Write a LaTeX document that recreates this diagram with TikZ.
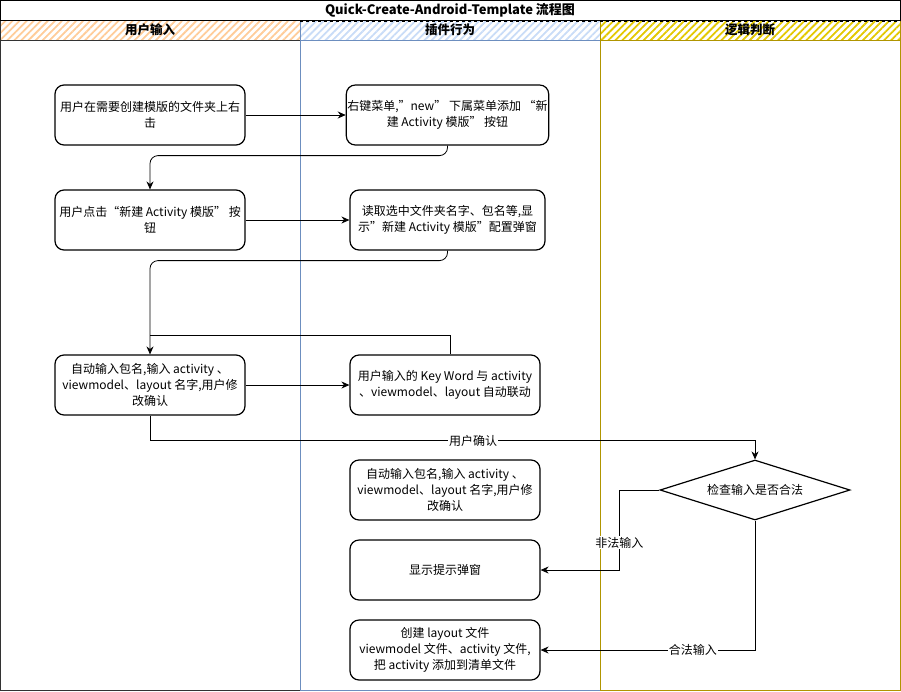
\documentclass[tikz,border=0pt]{standalone}
\usepackage{fontspec}
\setmainfont{Noto Sans CJK SC}
\usetikzlibrary{arrows.meta,shapes.geometric,patterns.meta}
\definecolor{hatchA}{HTML}{FFCC99}
\definecolor{hatchB}{HTML}{C9DCF7}
\definecolor{hatchC}{HTML}{E3C800}
\definecolor{laneA}{HTML}{333333}
\definecolor{laneB}{HTML}{6C8EBF}
\definecolor{laneC}{HTML}{B09500}
\begin{document}
\begin{tikzpicture}[x=1pt,y=-1pt,
  font=\fontsize{12}{16}\selectfont,
  box/.style={draw, line width=1.2pt, rounded corners=9pt, minimum width=190pt, minimum height=60pt, align=center, inner sep=1pt},
  flow/.style={draw, line width=0.8pt, -{Stealth[length=8pt,width=7pt]}},
  plain/.style={draw, line width=0.8pt},
  lbl/.style={fill=white, inner sep=1pt, font=\fontsize{12}{14}\selectfont},
  hdr/.style={font=\fontsize{12.5}{14}\selectfont\bfseries}]
\useasboundingbox (0,0) rectangle (901,691);
% header hatching
\path[pattern={Lines[angle=45,distance=5pt,line width=1.8pt]}, pattern color=hatchA] (0,21) rectangle (300,40);
\path[pattern={Lines[angle=45,distance=5pt,line width=1.8pt]}, pattern color=hatchB] (300,21) rectangle (600,40);
\path[pattern={Lines[angle=45,distance=5pt,line width=1.8pt]}, pattern color=hatchC] (600,21) rectangle (900,40);
% lanes
\draw[laneA, line width=1pt] (0.5,20) rectangle (300,690);
\draw[laneA, line width=1pt] (0.5,40) -- (300,40);
\draw[laneB, line width=1pt] (300,20) rectangle (600,690);
\draw[laneB, line width=1pt] (300,40) -- (600,40);
\draw[laneC, line width=1pt] (600,20) rectangle (900,690);
\draw[laneC, line width=1pt] (600,40) -- (900,40);
\draw[dashed, line width=0.6pt] (300,21.5) -- (900,21.5);
% title
\draw[line width=1pt] (0.5,0.5) rectangle (900,20);
\node[hdr, font=\fontsize{13}{14}\selectfont\bfseries] (title) at (450,10) {Quick-Create-Android-Template 流程图};
\node[hdr] (h1) at (150,30) {用户输入};
\node[hdr] (h2) at (450,30) {插件行为};
\node[hdr] (h3) at (750,30) {逻辑判断};
% boxes
\node[box] (A1) at (150,115) {用户在需要创建模版的文件夹上右\\击};
\node[box, minimum width=195pt] (B1) at (447.5,115) {右键菜单,"new" 下属菜单添加 “新\\建 Activity 模版” 按钮};
\node[box] (A2) at (150,220) {用户点击“新建 Activity 模版” 按\\钮};
\node[box, minimum width=195pt] (B2) at (447.5,220) {读取选中文件夹名字、包名等,显\\示"新建 Activity 模版"配置弹窗};
\node[box] (A3) at (150,385) {自动输入包名,输入 activity 、\\viewmodel、layout 名字,用户修\\改确认};
\node[box] (B3) at (445,385) {用户输入的 Key Word 与 activity\\、viewmodel、layout 自动联动};
\node[box] (B4) at (445,490) {自动输入包名,输入 activity 、\\viewmodel、layout 名字,用户修\\改确认};
\node[box] (B5) at (445,570) {显示提示弹窗};
\node[box] (B6) at (445,650) {创建 layout 文件\\viewmodel 文件、activity 文件,\\把 activity 添加到清单文件};
\node[diamond, draw, line width=1.2pt, minimum width=190pt, minimum height=60pt, inner sep=0pt, aspect=3.2] (D) at (755,490) {检查输入是否合法};
% connectors
\coordinate (m1) at (150,335);
\draw[flow] (A1) -- (B1);
\draw[flow, rounded corners=8pt] (B1.south) -- ++(0,10) -| (A2.north);
\draw[flow] (A2) -- (B2);
\draw[flow, rounded corners=8pt] (B2.south) -- ++(0,10) -| (A3.north);
\draw[plain] ([xshift=5pt]B3.north) |- (m1);
\draw[flow] (A3) -- (B3);
\draw[flow] (A3.south) -- ++(0,25) -| node[lbl, pos=0.267] {用户确认} (D.north);
\draw[flow] (D.west) -- ++(-40,0) |- node[lbl, pos=0.33] {非法输入} (B5.east);
\draw[flow] (D.south) |- node[lbl, pos=0.645] {合法输入} (B6.east);
\end{tikzpicture}
\end{document}
